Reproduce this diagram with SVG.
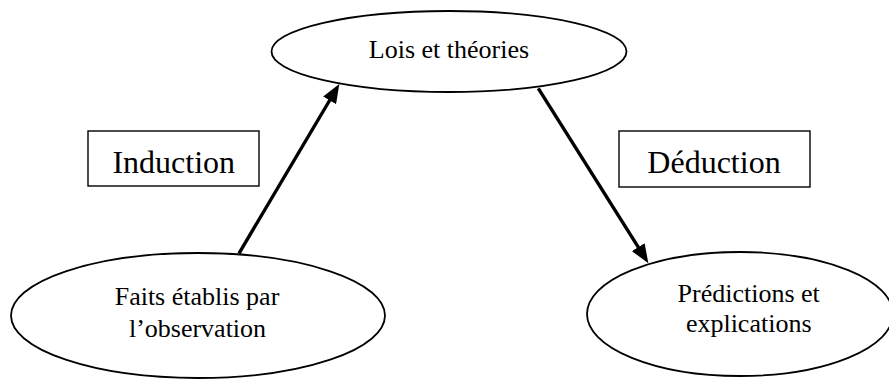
<svg xmlns="http://www.w3.org/2000/svg" width="889" height="381" viewBox="0 0 889 381">
  <style>
    .node { fill: #ffffff; stroke: #000000; stroke-width: 1.8; }
    .box { fill: #ffffff; stroke: #000000; stroke-width: 1.4; }
    .t { font-family: "Liberation Serif", "Times New Roman", serif; fill: #000000; text-anchor: middle; }
    .t26 { font-size: 26px; }
    .t32 { font-size: 32px; }
    .edge { stroke: #000000; stroke-width: 3.4; fill: none; marker-end: url(#arrow); }
  </style>
  <defs>
    <marker id="arrow" markerUnits="userSpaceOnUse" markerWidth="19" markerHeight="15" refX="8" refY="7.5" orient="auto">
      <path d="M0,0 L19,7.5 L0,15 z" fill="#000000"/>
    </marker>
  </defs>

  <g id="connectors">
    <line class="edge" x1="239" y1="253.3" x2="333.7" y2="93.5"/>
    <line class="edge" x1="538.3" y1="88.3" x2="642.5" y2="253.9"/>
  </g>

  <g id="node-lois">
    <ellipse class="node" cx="449" cy="51.5" rx="177.5" ry="40.5"/>
    <text class="t t26" x="449" y="57.5">Lois et théories</text>
  </g>

  <g id="node-faits">
    <ellipse class="node" cx="198" cy="315.5" rx="187" ry="62.5"/>
    <text class="t t26" x="197" y="305">Faits établis par</text>
    <text class="t t26" x="197.5" y="336.7">l’observation</text>
  </g>

  <g id="node-predictions">
    <ellipse class="node" cx="740" cy="314" rx="153" ry="62"/>
    <text class="t t26" x="748.7" y="301.7">Prédictions et</text>
    <text class="t t26" x="748.7" y="331.7">explications</text>
  </g>

  <g id="label-induction">
    <rect class="box" x="88" y="131" width="171" height="55"/>
    <text class="t t32" x="173.7" y="172.7">Induction</text>
  </g>

  <g id="label-deduction">
    <rect class="box" x="619" y="131" width="191" height="56"/>
    <text class="t t32" x="714" y="172.7">Déduction</text>
  </g>
</svg>
